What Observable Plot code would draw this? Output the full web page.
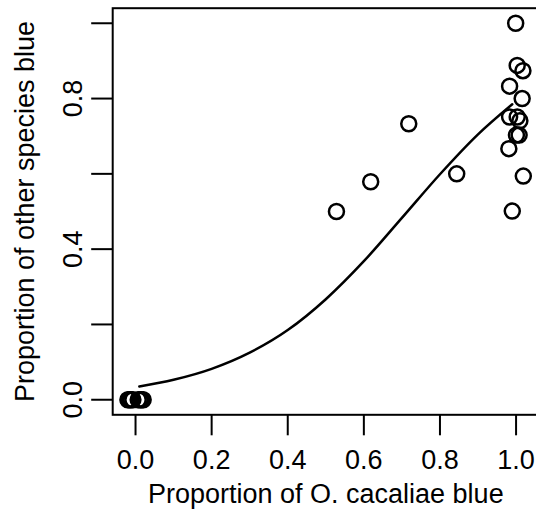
<!DOCTYPE html>
<html>
<head>
<meta charset="utf-8">
<script src="https://cdn.jsdelivr.net/npm/d3@7"></script>
<script src="https://cdn.jsdelivr.net/npm/@observablehq/plot@0.6"></script>
<style>
  html, body { margin: 0; padding: 0; background: white; overflow: hidden; }
  #chart svg { display: block; }
</style>
</head>
<body>
<div id="chart"></div>
<script>
// Observed points: proportion of O. cacaliae blue (x) vs proportion of other species blue (y)
const pointX = [
  -0.020, -0.016, -0.012, -0.007, 0.007, 0.012, 0.016, 0.020,
  0.528, 0.618, 0.718, 0.844,
  0.999, 1.003, 1.018, 0.983, 1.016, 0.983, 1.003, 1.010, 1.001, 1.008, 0.981, 1.019, 0.990
];
const pointY = [
  0, 0, 0, 0, 0, 0, 0, 0,
  0.500, 0.579, 0.733, 0.600,
  1.000, 0.888, 0.874, 0.833, 0.800, 0.751, 0.751, 0.741, 0.703, 0.703, 0.667, 0.594, 0.501
];

// Fitted curve
const curveX = [0.01, 0.1, 0.2, 0.3, 0.4, 0.5, 0.6, 0.7, 0.8, 0.9, 0.99];
const curveY = [0.035, 0.053, 0.082, 0.125, 0.185, 0.267, 0.368, 0.483, 0.599, 0.705, 0.785];

const xTicks = [0, 0.2, 0.4, 0.6, 0.8, 1.0];
const yTicks = [0, 0.2, 0.4, 0.6, 0.8, 1.0];
const yTickLabels = [0, 0.4, 0.8];

const xLabel = "Proportion of O. cacaliae blue";
const yLabel = "Proportion of other species blue";

const points = pointX.map((x, i) => ({x, y: pointY[i]}));
const curve = curveX.map((x, i) => ({x, y: curveY[i]}));

const fmt = d3.format(".1f");
const FS = 27;

const chart = Plot.plot({
  width: 536,
  height: 513,
  marginLeft: 112.2,
  marginRight: -2.4,
  marginTop: 7.7,
  marginBottom: 98.7,
  style: {fontFamily: "'Liberation Sans', Arial, sans-serif", background: "white", color: "black"},
  x: {domain: [-0.06, 1.06]},
  y: {domain: [-0.04, 1.04]},
  marks: [
    Plot.frame({stroke: "black", strokeWidth: 2}),
    Plot.axisX({ticks: xTicks, tickSize: 21, tickPadding: 14, tickFormat: fmt, fontSize: FS, strokeWidth: 2, label: null}),
    Plot.axisY({ticks: yTicks, tickSize: 21, tickFormat: () => "", strokeWidth: 2, label: null}),
    Plot.text(yTickLabels, {y: d => d, text: d => fmt(d), frameAnchor: "left", rotate: -90, textAnchor: "middle", lineAnchor: "bottom", dx: -31, fontSize: FS, fill: "black"}),
    Plot.text([xLabel], {frameAnchor: "bottom", lineAnchor: "bottom", dy: 88, fontSize: FS, fill: "black"}),
    Plot.text([yLabel], {frameAnchor: "left", rotate: -90, textAnchor: "middle", lineAnchor: "bottom", dx: -79, fontSize: FS, fill: "black"}),
    Plot.line(curve, {x: "x", y: "y", curve: "monotone-x", stroke: "black", strokeWidth: 2.5}),
    Plot.dot(points, {x: "x", y: "y", r: 7.5, stroke: "black", strokeWidth: 2.5, fill: "none"})
  ]
});
document.getElementById("chart").appendChild(chart);
</script>
</body>
</html>
